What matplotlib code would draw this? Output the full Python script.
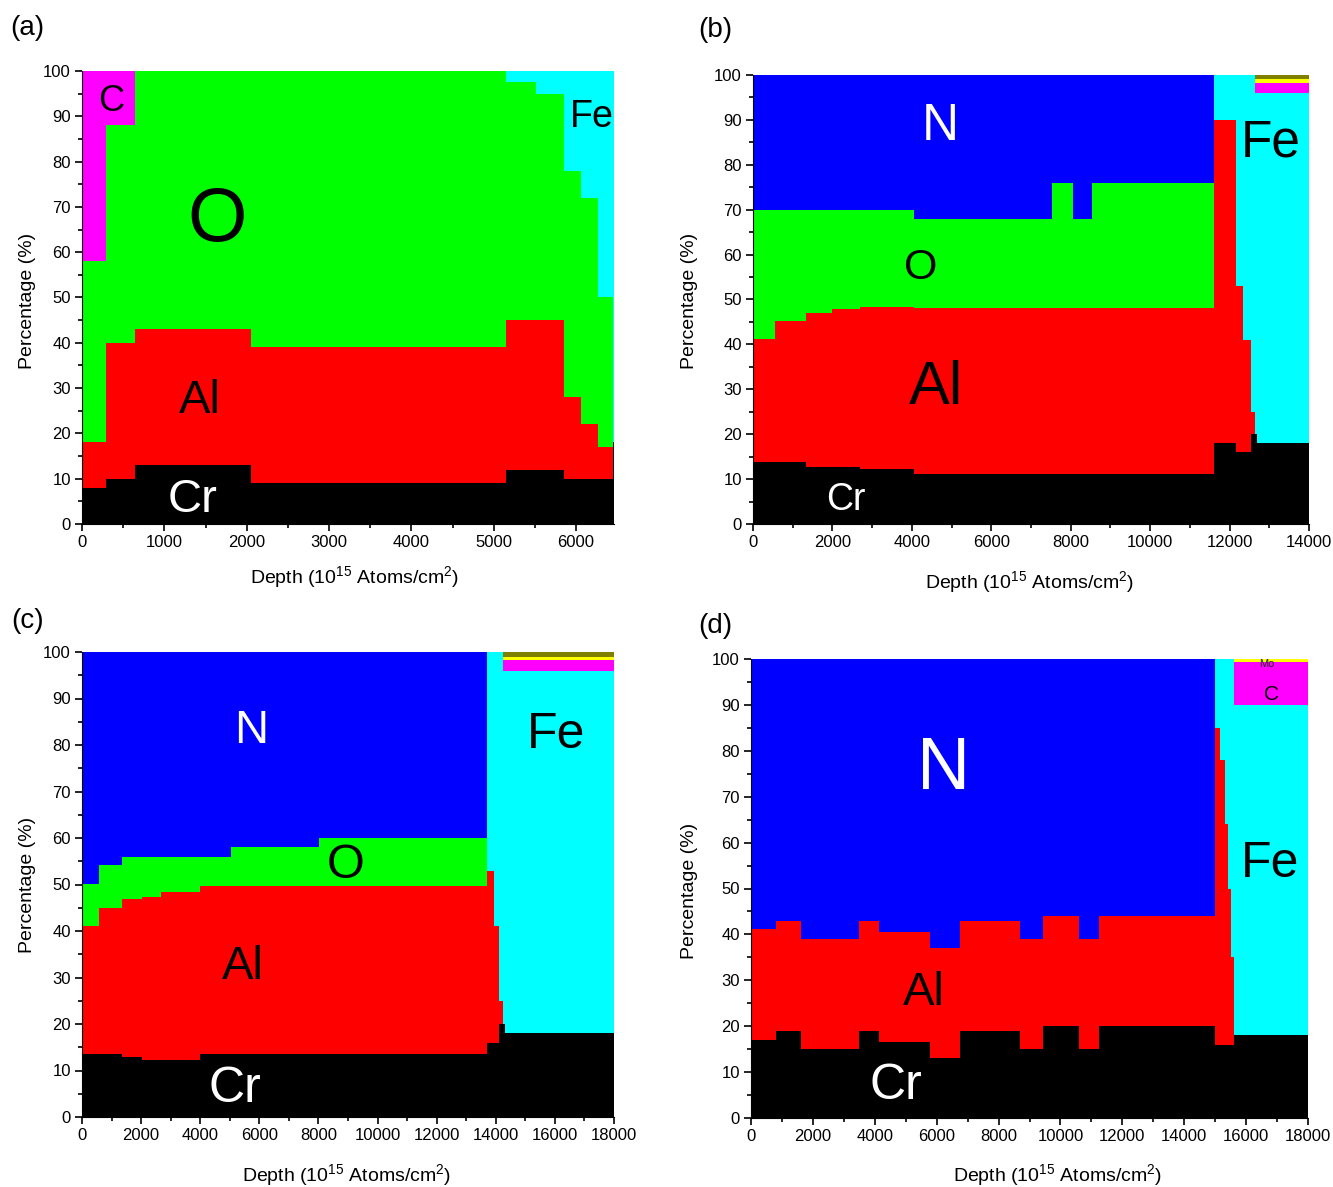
import matplotlib
matplotlib.use("Agg")
import matplotlib.pyplot as plt
import numpy as np
from matplotlib.ticker import MultipleLocator

plt.rcParams['font.family'] = ['Liberation Sans', 'DejaVu Sans']
plt.rcParams['mathtext.fontset'] = 'custom'
plt.rcParams['mathtext.rm'] = 'Liberation Sans'
plt.rcParams['mathtext.it'] = 'Liberation Sans'

# stacking order, bottom to top
ELEMENTS = ['Cr', 'Al', 'O', 'N', 'Fe', 'C', 'Mo', 'X']
COLORS = {'Cr': '#000000', 'Al': '#ff0000', 'O': '#00ff00', 'N': '#0000ff',
          'Fe': '#00ffff', 'C': '#ff00ff', 'Mo': '#ffff00', 'X': '#808000'}

# (a) layer edges (10^15 at/cm2) and composition (%) per layer
a_edges = [0, 288, 640, 2052, 5146, 5508, 5855, 6054, 6262, 6445, 6460]
a_cr = [8, 10, 13, 9, 12, 12, 10, 10, 10, 18]
a_al = [10, 30, 30, 30, 33, 33, 18, 12, 7, 0]
a_o = [40, 48, 57, 61, 52.5, 50, 50, 50, 33, 0]
a_fe = [0, 0, 0, 0, 2.5, 5, 22, 28, 50, 82]
a_c = [42, 12, 0, 0, 0, 0, 0, 0, 0, 0]

# (b)
b_edges = [0, 565, 1340, 2000, 2700, 4062, 7527, 8060, 8529, 11620, 12160, 12350, 12530, 12645, 12695, 14000]
b_cr = [13.7, 13.7, 12.8, 12.8, 12.3, 11.2, 11.2, 11.2, 11.2, 18, 16, 16, 20, 20, 18]
b_al = [27.4, 31.5, 34.1, 35, 36, 36.9, 36.9, 36.9, 36.9, 72, 37, 25, 5, 0, 0]
b_o = [28.9, 24.8, 23.1, 22.2, 21.7, 19.9, 27.9, 19.9, 27.9, 0, 0, 0, 0, 0, 0]
b_n = [30, 30, 30, 30, 30, 32, 24, 32, 24, 0, 0, 0, 0, 0, 0]
b_fe = [0, 0, 0, 0, 0, 0, 0, 0, 0, 10, 47, 59, 75, 76, 78]
b_c = [0, 0, 0, 0, 0, 0, 0, 0, 0, 0, 0, 0, 0, 2.3, 2.3]
b_mo = [0, 0, 0, 0, 0, 0, 0, 0, 0, 0, 0, 0, 0, 0.7, 0.7]
b_x = [0, 0, 0, 0, 0, 0, 0, 0, 0, 0, 0, 0, 0, 1.0, 1.0]

# (c)
c_edges = [0, 568, 1344, 2023, 2688, 3990, 5030, 8023, 13717, 13940, 14110, 14240, 14300, 18000]
c_cr = [13.6, 13.6, 12.8, 12.3, 12.3, 13.6, 13.6, 13.6, 16, 16, 20, 20, 18]
c_al = [27.5, 31.4, 34, 35, 36, 36, 36, 36, 37, 25, 5, 0, 0]
c_o = [8.9, 9.1, 9.2, 8.7, 7.7, 6.4, 8.5, 10.5, 0, 0, 0, 0, 0]
c_n = [50, 45.9, 44, 44, 44, 44, 41.9, 39.9, 0, 0, 0, 0, 0]
c_fe = [0, 0, 0, 0, 0, 0, 0, 0, 47, 59, 75, 76, 78]
c_c = [0, 0, 0, 0, 0, 0, 0, 0, 0, 0, 0, 2.3, 2.3]
c_mo = [0, 0, 0, 0, 0, 0, 0, 0, 0, 0, 0, 0.7, 0.7]
c_x = [0, 0, 0, 0, 0, 0, 0, 0, 0, 0, 0, 1.0, 1.0]

# (d)
d_edges = [0, 793, 1626, 3499, 4141, 5781, 6738, 8678, 9430, 10592, 11234, 14993,
           15150, 15310, 15410, 15510, 15600, 18000]
d_cr = [17.1, 19, 15.1, 19, 16.5, 13.1, 19, 15.1, 20, 15.1, 20, 16, 16, 16, 16, 16, 18]
d_al = [24, 24, 24, 24, 24, 24, 24, 24, 24, 24, 24, 69, 62, 48, 34, 19, 0]
d_n = [58.9, 57, 60.9, 57, 59.5, 62.9, 57, 60.9, 56, 60.9, 56, 0, 0, 0, 0, 0, 0]
d_fe = [0, 0, 0, 0, 0, 0, 0, 0, 0, 0, 0, 15, 22, 36, 50, 65, 72]
d_c = [0, 0, 0, 0, 0, 0, 0, 0, 0, 0, 0, 0, 0, 0, 0, 0, 9.3]
d_mo = [0, 0, 0, 0, 0, 0, 0, 0, 0, 0, 0, 0, 0, 0, 0, 0, 0.7]

W, H = 1333, 1187


def draw_panel(fig, box, edges, comp, xmajor, labels):
    left, top, right, bottom = box
    ax = fig.add_axes([left / W, 1 - bottom / H, (right - left) / W, (bottom - top) / H])
    edges = np.asarray(edges, float)
    present = [el for el in ELEMENTS if el in comp]
    tops = np.cumsum([comp[el] for el in present], axis=0)
    # draw from the top layer down so that each fill starts at 0 (no seams)
    for el, t in reversed(list(zip(present, tops))):
        y = np.append(t, t[-1])
        ax.fill_between(edges, 0, y, step='post', color=COLORS[el], lw=0)
    ax.set_xlim(edges[0], edges[-1])
    ax.set_ylim(0, 100)
    ax.xaxis.set_major_locator(MultipleLocator(xmajor))
    ax.xaxis.set_minor_locator(MultipleLocator(xmajor / 2))
    ax.yaxis.set_major_locator(MultipleLocator(10))
    ax.yaxis.set_minor_locator(MultipleLocator(5))
    ax.tick_params(which='major', direction='out', length=5, width=1.2, labelsize=12, pad=3)
    ax.tick_params(which='minor', direction='out', length=3, width=1.2)
    for s in ['top', 'right']:
        ax.spines[s].set_visible(False)
    for txt, x, y, size, color in labels:
        ax.text(x, y, txt, fontsize=size, color=color, ha='center', va='center')
    return ax


fig = plt.figure(figsize=(W / 100, H / 100), dpi=100)

draw_panel(fig, (82, 71, 614, 524), a_edges,
           {'Cr': a_cr, 'Al': a_al, 'O': a_o, 'Fe': a_fe, 'C': a_c}, 1000,
           [('C', 350, 93.3, 26, 'black'), ('O', 1636, 66.8, 55, 'black'),
            ('Fe', 6194, 89.8, 27, 'black'), ('Al', 1430, 27.1, 34, 'black'),
            ('Cr', 1345, 5.3, 34, 'white')])

draw_panel(fig, (753, 75, 1309, 524), b_edges,
           {'Cr': b_cr, 'Al': b_al, 'O': b_o, 'N': b_n, 'Fe': b_fe, 'C': b_c, 'Mo': b_mo, 'X': b_x}, 2000,
           [('N', 4709, 88.5, 37, 'white'), ('O', 4230, 57.1, 31, 'black'),
            ('Al', 4608, 30.2, 44, 'black'), ('Cr', 2342, 5.3, 27, 'white'),
            ('Fe', 13044, 84.9, 37, 'black')])

draw_panel(fig, (82, 652, 614, 1117), c_edges,
           {'Cr': c_cr, 'Al': c_al, 'O': c_o, 'N': c_n, 'Fe': c_fe, 'C': c_c, 'Mo': c_mo, 'X': c_x}, 2000,
           [('N', 5717, 83.1, 34, 'white'), ('O', 8931, 54.0, 35, 'black'),
            ('Al', 5446, 32.3, 34, 'black'), ('Cr', 5176, 6.1, 36, 'white'),
            ('Fe', 16035, 82.2, 36, 'black')])

draw_panel(fig, (751, 659, 1308, 1118), d_edges,
           {'Cr': d_cr, 'Al': d_al, 'N': d_n, 'Fe': d_fe, 'C': d_c, 'Mo': d_mo}, 2000,
           [('N', 6238, 75.9, 53, 'white'), ('Al', 5591, 27.3, 34, 'black'),
            ('Cr', 4686, 7.0, 36, 'white'), ('Fe', 16774, 55.4, 36, 'black'),
            ('C', 16806, 92.2, 15, 'black'), ('Mo', 16677, 98.9, 8, '#222222')])

# axis titles and panel letters
xlab = 'Depth (10$^{15}$ Atoms/cm$^{2}$)'
for x, y in [(355, 577), (1030, 582), (347, 1175), (1058, 1175)]:
    fig.text(x / W, 1 - y / H, xlab, fontsize=14, ha='center', va='center')
for x, y in [(27, 301), (690, 301), (27, 885), (690, 891)]:
    fig.text(x / W, 1 - y / H, 'Percentage (%)', fontsize=14, rotation=90, ha='center', va='center')
for lab, x, y in [('(a)', 27, 28), ('(b)', 715, 30), ('(c)', 28, 621), ('(d)', 715, 626)]:
    fig.text(x / W, 1 - y / H, lab, fontsize=20, ha='center', va='center')

fig.savefig('out.png', dpi=100)
